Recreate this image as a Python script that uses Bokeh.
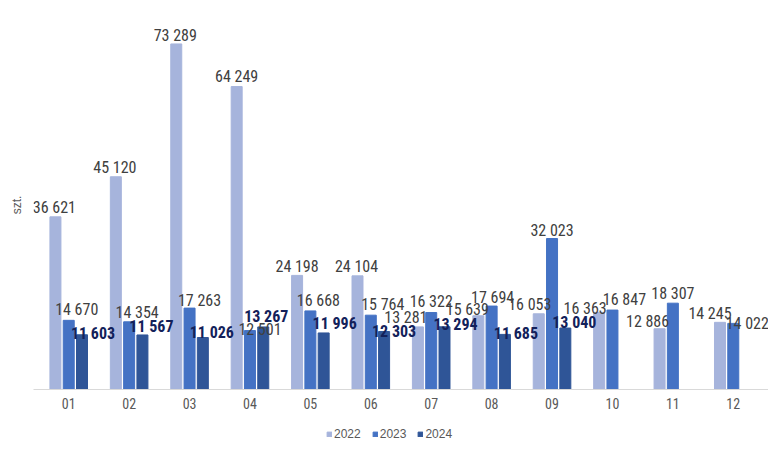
from bokeh.plotting import figure
from bokeh.layouts import column
from bokeh.models import ColumnDataSource, FactorRange, Range1d, Legend, LegendItem
from bokeh.transform import dodge
from bokeh.core.properties import value
from bokeh.embed import file_html
from bokeh.resources import INLINE

months = ["01", "02", "03", "04", "05", "06", "07", "08", "09", "10", "11", "12"]
v2022 = [36621, 45120, 73289, 64249, 24198, 24104, 13281, 15639, 16053, 16363, 12886, 14245]
v2023 = [14670, 14354, 17263, 12501, 16668, 15764, 16322, 17694, 32023, 16847, 18307, 14022]
v2024 = [11603, 11567, 11026, 13267, 11996, 12303, 13294, 11685, 13040]
series_names = ["2022", "2023", "2024"]
colors = ["#A6B4DC", "#4472C4", "#2F5597"]

# manual nudges of the data labels (pixels), as placed in the original chart
nudge_x = [[-1, -1, -1, 0, 0, -1, -12, -11, -9, -14, -12, -10],
           [8, 8, 10, 10, 8, 12, 0, 1, 0, 12, 0, 14],
           [11, 9, 9, 3, 11, 10, 11, 11, 9]]
nudge_y = [[9, 9, 8, 10, 9, 9, 9, 6, 9, 4, 7, 9],
           [11, 9, 8, 1, 10, 11, 11, 9, 8, 11, 10, 0],
           [1, 8, 5, 10, 9, 0, 2, 1, 6]]


def fmt(v):
    return f"{v:,}".replace(",", " ")


sources = []
for vals, nx, ny in zip([v2022, v2023, v2024], nudge_x, nudge_y):
    sources.append(ColumnDataSource(dict(m=months[:len(vals)], v=vals,
                                         t=[fmt(v) for v in vals],
                                         dx=nx, dy=[-g for g in ny])))

xr = FactorRange(*months, range_padding=0.083, range_padding_units="absolute")
p1 = figure(width=768, height=420, x_range=xr,
            y_range=Range1d(0, 78260), output_backend="svg", toolbar_location=None,
            min_border_left=33, min_border_right=0, min_border_top=20, min_border_bottom=31)
p1.outline_line_color = None
p1.xgrid.visible = False
p1.ygrid.visible = False

off = 0.22
bw = 0.182
shifts = [-off, 0, off]
for s, d, c in zip(sources, shifts, colors):
    p1.vbar(x=dodge("m", d, range=p1.x_range), top="v", width=bw, source=s, color=c)

lab_font = value("Roboto Condensed")
label_colors = ["#404040", "#404040", "#13215A"]
label_styles = ["normal", "normal", "bold"]
for s, d, tc, st in zip(sources, shifts, label_colors, label_styles):
    p1.text(x=dodge("m", d, range=p1.x_range), y="v", text="t", source=s,
            x_offset="dx", y_offset="dy", text_align="center", text_baseline="alphabetic",
            text_font=lab_font, text_font_size="16px", text_font_style=st, text_color=tc)

# x axis
xa = p1.xaxis[0]
xa.axis_line_color = "#D9D9D9"
xa.major_tick_line_color = None
xa.minor_tick_line_color = None
xa.major_tick_out = 0
xa.major_tick_in = 0
xa.major_label_standoff = 8
xa.major_label_text_font = "Roboto Condensed"
xa.major_label_text_font_size = "14px"
xa.major_label_text_color = "#595959"

# y axis: only the unit label
ya = p1.yaxis[0]
ya.ticker = []
ya.axis_line_color = None
ya.major_tick_line_color = None
ya.minor_tick_line_color = None
ya.major_label_text_font_size = "0px"
ya.axis_label = "szt."
ya.axis_label_text_font = "Liberation Sans"
ya.axis_label_text_font_size = "12px"
ya.axis_label_text_font_style = "normal"
ya.axis_label_text_color = "#595959"
ya.axis_label_standoff = 10

# legend strip (its bars lie far outside its y range, only the legend shows)
p2 = figure(width=768, height=26, x_range=p1.x_range, y_range=Range1d(200000, 300000),
            x_axis_type=None, y_axis_type=None,
            output_backend="svg", toolbar_location=None,
            min_border_left=0, min_border_right=0, min_border_top=0, min_border_bottom=0)
p2.outline_line_color = None
p2.grid.visible = False
leg_r = [p2.vbar(x=dodge("m", d, range=p2.x_range), top="v", width=bw, source=s, color=c)
         for s, d, c in zip(sources, shifts, colors)]
lg = Legend(items=[LegendItem(label=n, renderers=[r]) for n, r in zip(series_names, leg_r)])
lg.orientation = "horizontal"
lg.location = (293, 5)
lg.border_line_color = None
lg.background_fill_alpha = 0
lg.glyph_width = 6
lg.glyph_height = 6
lg.label_standoff = 2
lg.spacing = 11
lg.padding = 0
lg.margin = 0
lg.label_text_font = "Liberation Sans"
lg.label_text_font_size = "12px"
lg.label_text_color = "#595959"
p2.add_layout(lg, "center")

p = column(p1, p2, spacing=0)
open("out.html", "w").write(file_html(p, INLINE))
